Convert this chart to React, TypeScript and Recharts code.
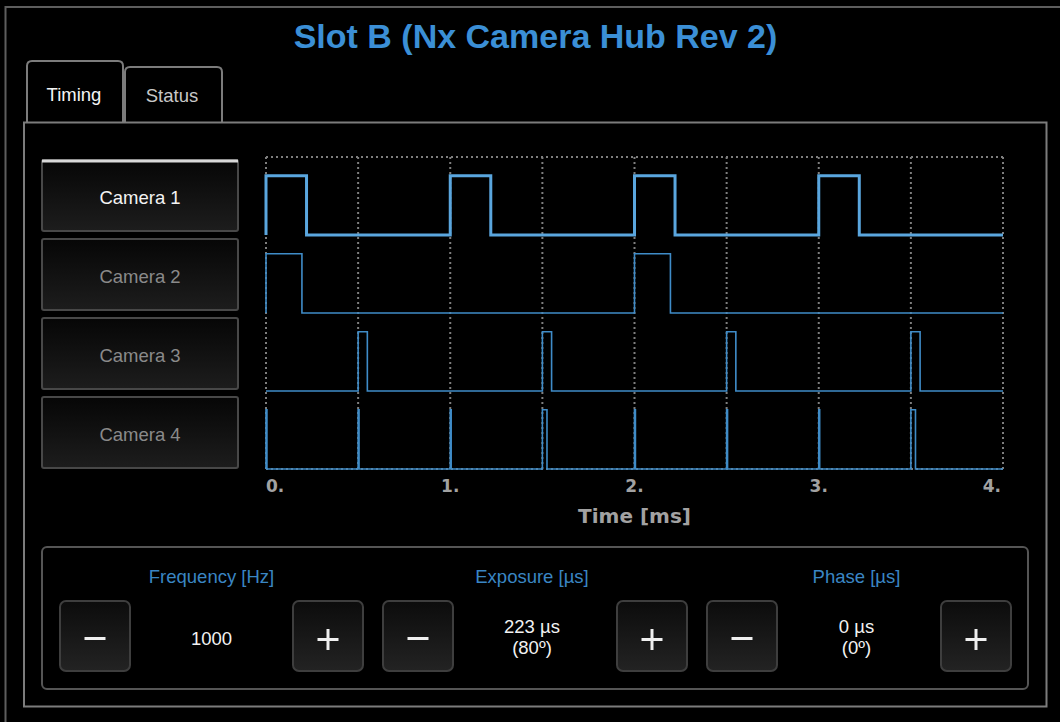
import React from 'react'
import { LineChart, Line, XAxis, YAxis, CartesianGrid } from 'recharts'

const TITLE = 'Slot B (Nx Camera Hub Rev 2)'
const TABS = ['Timing', 'Status']
const CAMERAS = ['Camera 1', 'Camera 2', 'Camera 3', 'Camera 4']

// pulse start times and widths in ms
const CAM1_STARTS = [0, 1, 2, 3]
const CAM1_WIDTHS = [0.22, 0.22, 0.22, 0.22]
const CAM2_STARTS = [0, 2]
const CAM2_WIDTHS = [0.195, 0.195]
const CAM3_STARTS = [0.5, 1.5, 2.5, 3.5]
const CAM3_WIDTHS = [0.05, 0.05, 0.05, 0.05]
const CAM4_STARTS = [0, 0.5, 1, 1.5, 2, 2.5, 3, 3.5]
const CAM4_WIDTHS = [0.005, 0.005, 0.005, 0.025, 0.005, 0.005, 0.005, 0.025]

const LANE_BASE = [3, 2, 1, 0]
const PULSE_HIGH = 0.76
const TIME_END = 4

const X_TICKS = [0, 0.5, 1, 1.5, 2, 2.5, 3, 3.5, 4]
const X_TICK_LABELS = ['0.', '', '1.', '', '2.', '', '3.', '', '4.']
const Y_TICKS = [0, 1, 2, 3, 4]

const CONTROLS = [
  { label: 'Frequency [Hz]', value: ['1000'] },
  { label: 'Exposure [µs]', value: ['223 µs', '(80º)'] },
  { label: 'Phase [µs]', value: ['0 µs', '(0º)'] },
]

const FONT = '"Liberation Sans", Arial, sans-serif'
const BLUE = '#3b8fd6'
const LABEL_BLUE = '#3a86c4'

function wave(starts: number[], widths: number[], base: number) {
  const pts = [{ t: 0, v: base }]
  starts.forEach((s, i) => {
    const w = widths[i]
    pts.push({ t: s, v: base }, { t: s, v: base + PULSE_HIGH }, { t: s + w, v: base + PULSE_HIGH }, { t: s + w, v: base })
  })
  pts.push({ t: TIME_END, v: base })
  return pts
}

const series = [
  { name: CAMERAS[0], data: wave(CAM1_STARTS, CAM1_WIDTHS, LANE_BASE[0]), color: '#5aa6de', width: 3 },
  { name: CAMERAS[1], data: wave(CAM2_STARTS, CAM2_WIDTHS, LANE_BASE[1]), color: '#3f8cc8', width: 1.6 },
  { name: CAMERAS[2], data: wave(CAM3_STARTS, CAM3_WIDTHS, LANE_BASE[2]), color: '#3f8cc8', width: 1.6 },
  { name: CAMERAS[3], data: wave(CAM4_STARTS, CAM4_WIDTHS, LANE_BASE[3]), color: '#3f8cc8', width: 1.6 },
]

const TimeTick = (props: any) => {
  const { x, y, payload, index } = props
  const label = X_TICK_LABELS[index]
  if (!label) return <g />
  const anchor = payload.value === 0 ? 'start' : payload.value === TIME_END ? 'end' : 'middle'
  return (
    <text
      x={payload.value === TIME_END ? x - 2 : x}
      y={y + 15}
      textAnchor={anchor}
      fill="#a2a2a2"
      fontSize={17}
      fontWeight="bold"
      fontFamily='"DejaVu Sans", sans-serif'
    >
      {label}
    </text>
  )
}

function MinusGlyph({ cx, cy }: { cx: number; cy: number }) {
  return <rect x={cx - 10.5} y={cy - 1.5} width={21} height={3} fill="#f0f0f0" />
}

function PlusGlyph({ cx, cy }: { cx: number; cy: number }) {
  return (
    <g fill="#f0f0f0">
      <rect x={cx - 10.5} y={cy - 1.5} width={21} height={3} />
      <rect x={cx - 1.5} y={cy - 10.5} width={3} height={21} />
    </g>
  )
}

function StepButton({ x, kind }: { x: number; kind: 'minus' | 'plus' }) {
  const cx = x + 35
  return (
    <g>
      <rect x={x} y={601} width={70} height={70} rx={6} fill="url(#btnGrad)" stroke="#3e3e3e" strokeWidth={2} />
      {kind === 'minus' ? <MinusGlyph cx={cx} cy={638.5} /> : <PlusGlyph cx={cx} cy={639.5} />}
    </g>
  )
}

function Chrome() {
  const camTops = [160, 239, 318, 397]
  const groups = [
    { minus: 60, plus: 293, center: 211.5 },
    { minus: 383, plus: 617, center: 532 },
    { minus: 707, plus: 941, center: 856.5 },
  ]
  return (
    <svg width={1060} height={722} style={{ position: 'absolute', left: 0, top: 0 }} fontFamily={FONT}>
      <defs>
        <linearGradient id="camGrad" x1="0" y1="0" x2="0" y2="1">
          <stop offset="0" stopColor="#060606" />
          <stop offset="1" stopColor="#1d1d1d" />
        </linearGradient>
        <linearGradient id="btnGrad" x1="0" y1="0" x2="0" y2="1">
          <stop offset="0" stopColor="#0c0c0c" />
          <stop offset="1" stopColor="#232323" />
        </linearGradient>
      </defs>
      <rect x={0} y={0} width={1060} height={722} fill="#000" />
      <line x1={5.5} y1={6} x2={5.5} y2={722} stroke="#5e5e5e" strokeWidth={2} />
      <line x1={5} y1={7} x2={1060} y2={7} stroke="#5e5e5e" strokeWidth={2} />

      <text x={535.5} y={48} textAnchor="middle" fontSize={34} fontWeight="bold" fill={BLUE}>
        {TITLE}
      </text>

      <path d="M27,122 V66 Q27,61 32,61 H118 Q123,61 123,66 V122" fill="#000" stroke="#7c7c7c" strokeWidth={2} />
      <path d="M125,122 V72 Q125,67 130,67 H217 Q222,67 222,72 V122" fill="#000" stroke="#7c7c7c" strokeWidth={2} />
      <text x={74} y={101} textAnchor="middle" fontSize={18.5} fill="#f4f4f4">
        {TABS[0]}
      </text>
      <text x={172} y={102} textAnchor="middle" fontSize={18.5} fill="#c8c8c8">
        {TABS[1]}
      </text>

      <rect x={24} y={122.5} width={1022.5} height={584} fill="none" stroke="#7c7c7c" strokeWidth={2} />

      {CAMERAS.map((name, i) => (
        <g key={name}>
          <rect x={42} y={camTops[i]} width={196} height={71} rx={2} fill="url(#camGrad)" stroke="#484848" strokeWidth={2} />
          {i === 0 && <line x1={42} y1={161} x2={238} y2={161} stroke="#d8d8d8" strokeWidth={3} />}
          <text x={140} y={camTops[i] + 44} textAnchor="middle" fontSize={18.5} fill={i === 0 ? '#f4f4f4' : '#8a8a8a'}>
            {name}
          </text>
        </g>
      ))}

      <rect x={42} y={547} width={986} height={142} rx={5} fill="none" stroke="#555" strokeWidth={2} />

      {CONTROLS.map((c, i) => {
        const g = groups[i]
        return (
          <g key={c.label}>
            <text x={g.center} y={583} textAnchor="middle" fontSize={18.5} fill={LABEL_BLUE}>
              {c.label}
            </text>
            <StepButton x={g.minus} kind="minus" />
            <StepButton x={g.plus} kind="plus" />
            {c.value.length === 1 ? (
              <text x={g.center} y={645} textAnchor="middle" fontSize={18.5} fill="#f2f2f2">
                {c.value[0]}
              </text>
            ) : (
              <g>
                <text x={g.center} y={633} textAnchor="middle" fontSize={18.5} fill="#f2f2f2">
                  {c.value[0]}
                </text>
                <text x={g.center} y={654} textAnchor="middle" fontSize={18.5} fill="#f2f2f2">
                  {c.value[1]}
                </text>
              </g>
            )}
          </g>
        )
      })}
    </svg>
  )
}

export default function App() {
  return (
    <div style={{ position: 'relative', width: 1060, height: 722, background: '#000', overflow: 'hidden' }}>
      <style>{'body{margin:0;background:#000}'}</style>
      <Chrome />
      <div style={{ position: 'absolute', left: 250, top: 140 }}>
        <LineChart width={770} height={400} margin={{ top: 17, right: 17, bottom: 11, left: 16 }}>
          <CartesianGrid stroke="#7e7e7e" strokeWidth={2} strokeDasharray="2 3" />
          <XAxis
            dataKey="t"
            type="number"
            domain={[0, TIME_END]}
            ticks={X_TICKS}
            interval={0}
            axisLine={false}
            tickLine={false}
            height={60}
            tick={<TimeTick />}
            label={{
              value: 'Time [ms]',
              position: 'insideBottom',
              offset: 6,
              fill: '#a2a2a2',
              fontSize: 20,
              fontWeight: 'bold',
              fontFamily: '"DejaVu Sans", sans-serif',
            }}
          />
          <YAxis type="number" domain={[0, 4]} ticks={Y_TICKS} width={0} tick={false} axisLine={false} tickLine={false} />
          {series.map((s) => (
            <Line
              key={s.name}
              data={s.data}
              dataKey="v"
              name={s.name}
              type="linear"
              stroke={s.color}
              strokeWidth={s.width}
              dot={false}
              activeDot={false}
              isAnimationActive={false}
            />
          ))}
        </LineChart>
      </div>
    </div>
  )
}
